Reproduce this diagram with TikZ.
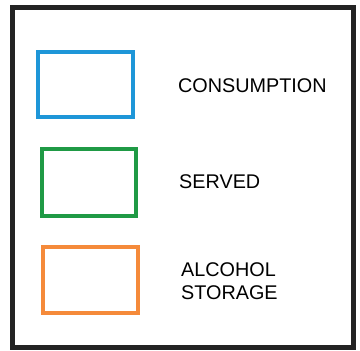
\documentclass[tikz,border=0pt]{standalone}
\usepackage{fontspec}
\setmainfont{Liberation Sans}
\definecolor{frameC}{HTML}{232323}
\definecolor{blueC}{HTML}{1E96D8}
\definecolor{greenC}{HTML}{1F9A45}
\definecolor{orangeC}{HTML}{F58A3A}
\begin{document}
\begin{tikzpicture}[x=1pt,y=1pt,
  swatch/.style={draw,line width=4pt},
  lbl/.style={inner sep=0pt,font=\fontsize{19.8}{23}\selectfont,align=left}]
\useasboundingbox (0,0) rectangle (360,351);
\draw[frameC,line width=5pt] (13,343) rectangle (354,3);
\node[swatch,blueC,minimum width=95pt,minimum height=65pt] (cons) at (86,266.5) {};
\node[swatch,greenC,minimum width=94pt,minimum height=67pt] (serv) at (89,168.5) {};
\node[swatch,orangeC,minimum width=95pt,minimum height=66pt] (alc) at (90.5,71) {};
\node[lbl,anchor=base west] (consl) at (178,258) {CONSUMPTION};
\node[lbl,anchor=base west] (servl) at (179,162) {SERVED};
\node[lbl,anchor=north west] (alcl) at (181,88.5) {ALCOHOL\\STORAGE};
\end{tikzpicture}
\end{document}
